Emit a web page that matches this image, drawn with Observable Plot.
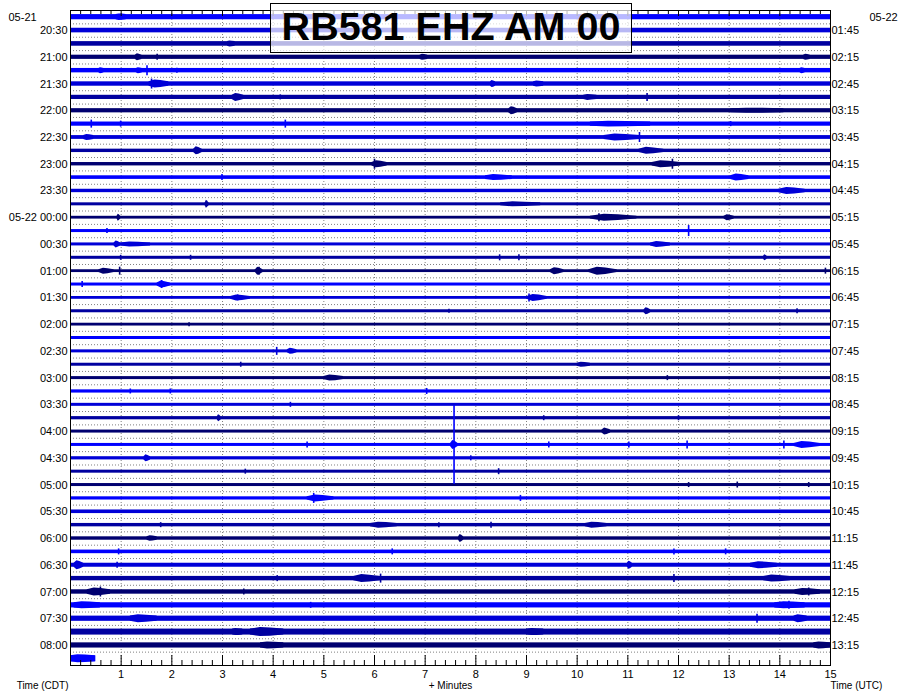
<!DOCTYPE html>
<html>
<head>
<meta charset="utf-8">
<script src="https://cdn.jsdelivr.net/npm/d3@7"></script>
<script src="https://cdn.jsdelivr.net/npm/@observablehq/plot@0.6"></script>
<style>
  body { margin: 0; background: #fff; font-family: "Liberation Sans", Arial, sans-serif; }
  #wrap { position: relative; width: 900px; height: 700px; }
  #title {
    position: absolute; left: 270px; top: 3px; width: 360px; height: 48px;
    border: 1px solid #000; background: rgba(255,255,255,0.72);
    font: bold 39.5px "Liberation Sans", Arial, sans-serif; color: #000;
    text-align: center; line-height: 44px; white-space: nowrap;
  }
</style>
</head>
<body>
<div id="wrap"><div id="title">RB581 EHZ AM 00</div></div>
<script>
// ---------- data ----------
const titleText = "RB581 EHZ AM 00";
const minuteTicks = [1,2,3,4,5,6,7,8,9,10,11,12,13,14,15];
const leftLabels = ["20:30","21:00","21:30","22:00","22:30","23:00","23:30","05-22 00:00",
  "00:30","01:00","01:30","02:00","02:30","03:00","03:30","04:00","04:30","05:00",
  "05:30","06:00","06:30","07:00","07:30","08:00"];
const rightLabels = ["01:45","02:15","02:45","03:15","03:45","04:15","04:45","05:15",
  "05:45","06:15","06:45","07:15","07:45","08:15","08:45","09:15","09:45","10:15",
  "10:45","11:15","11:45","12:15","12:45","13:15"];
const firstLeftDate = "05-21";
const firstRightDate = "05-22";
const rowColors = ["#0000ff", "#0000d8", "#0000a0", "#000070"];
const countsPerRow = 1336;      // trace gain: counts per row spacing
const lastRowMinutes = 0.5;     // last row only partly recorded
// background noise half-amplitude per row (counts), rows 0..48 (20:15 .. 08:15 CDT)
const baseAmp = [
  260,230,230,210,220,220,210,210,   // 0-7
  210,190,170,170,180,170,150,140,   // 8-15
  150,150,150,140,150,140,150,140,   // 16-23
  150,150,150,150,160,150,160,150,   // 24-31
  150,160,150,150,160,180,170,170,   // 32-39
  180,200,220,220,260,260,300,260,   // 40-47
  300                                // 48
];
// bursts: [row, fromMinute, toMinute, halfAmplitude counts]
const bursts = [
  [0,0.9,1.1,330],[2,3.1,3.25,300],
  [3,1.28,1.41,350],[3,6.9,7.05,300],[3,14.47,14.6,300],
  [4,0.56,0.66,300],[4,1.3,1.42,300],[4,14.4,14.5,300],
  [5,1.55,1.94,400],[5,8.29,8.39,350],[5,9.14,9.34,300],
  [6,3.19,3.42,400],[6,10.13,10.39,300],
  [7,8.65,8.82,400],[7,13.03,14.08,260],
  [8,10.26,11.45,280],
  [9,0.26,0.46,300],[9,10.53,11.25,350],
  [10,2.43,2.6,400],[10,11.22,11.71,350],
  [11,5.95,6.25,350],[11,11.48,12.04,350],
  [12,8.19,8.72,300],[12,13.03,13.39,350],
  [13,13.98,14.5,350],
  [14,2.66,2.73,400],[14,8.49,9.28,250],
  [15,0.92,0.99,350],[15,10.26,11.18,350],[15,12.9,13.1,300],
  [17,0.86,0.99,350],[17,0.99,1.58,250],[17,11.45,11.84,300],
  [18,13.68,13.75,300],
  [19,0.56,0.86,300],[19,3.65,3.8,400],[19,9.47,9.74,350],[19,10.23,10.79,400],
  [20,1.71,1.97,350],
  [21,3.16,3.55,300],[21,9.01,9.41,350],
  [22,11.32,11.45,350],
  [25,4.28,4.47,300],[26,10.0,10.26,250],[27,5.0,5.39,300],
  [30,2.9,2.97,350],[31,10.49,10.66,350],
  [32,7.5,7.65,450],[32,14.28,14.8,350],
  [33,1.45,1.58,350],[36,4.67,5.2,350],
  [38,5.92,6.45,300],[38,10.16,10.59,300],
  [39,1.51,1.71,280],[39,7.66,7.76,400],
  [41,0.07,0.26,450],[41,10.99,11.09,400],[41,13.42,13.95,350],
  [42,5.59,6.12,400],[42,13.68,14.21,350],
  [43,0.33,0.79,400],[43,14.3,14.8,350],
  [44,0.07,0.59,350],[44,13.9,14.5,350],
  [45,1.18,1.71,400],[45,14.28,14.54,400],
  [46,3.2,3.4,350],[46,3.55,4.21,450],[46,9.01,9.34,350],
  [47,3.75,4.21,350],[47,14.67,15,350],
  [48,0,0.49,400]
];
// spikes: [row, minute, halfAmplitude counts]
const spikes = [
  [3,1.71,300],[4,1.51,500],[4,2.1,250],[5,1.6,500],[6,11.38,400],[6,4.14,250],
  [8,0.41,400],[8,0.99,300],[8,4.24,400],[8,13.03,250],[9,11.23,500],
  [11,6.0,500],[11,11.88,500],[12,2.99,300],[15,10.43,400],[16,0.72,250],[16,12.2,550],
  [18,8.47,300],[18,8.85,300],[18,0.99,250],[18,2.37,250],
  [19,0.97,400],[19,3.72,400],[19,14.9,300],[20,0.23,300],[20,1.8,400],
  [21,3.3,300],[21,9.05,400],[22,7.47,200],[22,14.34,250],[23,2.34,200],
  [25,4.07,400],[26,3.36,250],[27,11.78,250],[28,1.18,250],[28,1.97,250],[28,7.03,300],
  [29,4.34,250],[30,9.34,250],[30,12.0,250],
  [32,7.57,3950],[32,9.44,300],[32,11.02,300],[32,12.17,400],[32,14.08,400],[32,4.67,300],
  [33,7.9,250],[34,3.45,250],[34,8.45,300],[35,12.2,250],[35,13.16,300],[35,14.57,250],
  [36,4.8,500],[36,8.88,300],[38,1.78,250],[38,7.27,250],[38,8.3,300],
  [40,0.95,300],[40,6.35,300],[40,11.91,300],[40,12.93,300],[41,0.92,300],
  [42,4.08,300],[42,6.12,450],[42,11.91,400],[43,0.59,500],[43,3.42,300],[43,14.57,400],
  [44,4.74,300],[44,14.18,400],[45,13.55,450]
];

// ---------- derived ----------
const nRows = baseAmp.length;
const rows = d3.range(nRows);
const rowColor = r => rowColors[r % 4];
const off = c => c / countsPerRow;
const minorTicks = d3.range(1, 75).filter(i => i % 5 !== 0).map(i => i / 5);
const labelRows = d3.range(leftLabels.length).map(k => 2 * k + 1);
// spindle-shaped envelope for each burst: base -> peak (early) -> base
const burstPts = bursts.flatMap(([r, a, b, amp], j) => {
  const base = baseAmp[r];
  return [
    {j, r, x: a, h: base},
    {j, r, x: a + (b - a) * 0.3, h: amp},
    {j, r, x: a + (b - a) * 0.6, h: (amp + base) / 2 + (amp - base) * 0.2},
    {j, r, x: b, h: base}
  ];
});

const chart = Plot.plot({
  width: 900,
  height: 700,
  marginLeft: 70,
  marginRight: 70,
  marginTop: 10,
  marginBottom: 35,
  x: {domain: [0, 15], label: null},
  y: {domain: [-0.5, nRows - 0.5], reverse: true, axis: null, label: null},
  color: {type: "identity"},
  style: {fontFamily: "'Liberation Sans', Arial, sans-serif", fontSize: "11px", color: "#000", background: "#fff"},
  marks: [
    Plot.gridX(minuteTicks.slice(0, -1), {stroke: "#808080", strokeOpacity: 1, strokeDasharray: "1,2"}),
    Plot.ruleY(rows.slice(0, -1), {y: r => r + 0.5, stroke: "#808080", strokeDasharray: "1,2"}),
    // continuous background noise band per row
    Plot.rect(rows, {
      x1: () => 0,
      x2: r => (r === nRows - 1 ? lastRowMinutes : 15),
      y1: r => r - off(baseAmp[r]),
      y2: r => r + off(baseAmp[r]),
      fill: rowColor
    }),
    // bursts (wave packets)
    Plot.areaY(burstPts, {
      x: "x", y1: d => d.r - off(d.h), y2: d => d.r + off(d.h), z: "j",
      fill: d => rowColor(d.r)
    }),
    // spikes
    Plot.ruleX(spikes, {
      x: d => d[1],
      y1: d => d[0] - off(d[2]), y2: d => d[0] + off(d[2]),
      stroke: d => rowColor(d[0]), strokeWidth: 1.6
    }),
    Plot.frame({stroke: "#000"}),
    // inward ticks
    Plot.tickX(minorTicks, {x: d => d, insetTop: 650, stroke: "#000"}),
    Plot.tickX(minuteTicks, {x: d => d, insetTop: 645, stroke: "#000"}),
    Plot.tickX(minorTicks, {x: d => d, insetBottom: 651, stroke: "#000"}),
    Plot.tickX(minuteTicks, {x: d => d, insetBottom: 649, stroke: "#000"}),
    Plot.axisX(minuteTicks, {tickSize: 0, tickPadding: 5, fontSize: 11, tickFormat: d => String(d), label: null}),
    // row time labels
    Plot.text(labelRows, {y: r => r, text: (r, i) => leftLabels[i], frameAnchor: "left", textAnchor: "end", dx: -3}),
    Plot.text(labelRows, {y: r => r, text: (r, i) => rightLabels[i], frameAnchor: "right", textAnchor: "start", dx: 1}),
    Plot.text([firstLeftDate], {y: () => 0, text: d => d, frameAnchor: "left", textAnchor: "start", dx: -62}),
    Plot.text([firstRightDate], {y: () => 0, text: d => d, frameAnchor: "right", textAnchor: "start", dx: 39}),
    // bottom captions
    Plot.text(["Time (CDT)"], {text: d => d, frameAnchor: "bottom-left", textAnchor: "end", dx: -2, dy: 23, fontSize: 10}),
    Plot.text(["+ Minutes"], {text: d => d, frameAnchor: "bottom", dy: 23, fontSize: 10}),
    Plot.text(["Time (UTC)"], {text: d => d, frameAnchor: "bottom-right", textAnchor: "start", dx: 0, dy: 23, fontSize: 10})
  ]
});
const wrap = document.getElementById("wrap");
wrap.insertBefore(chart, wrap.firstChild);
chart.style.position = "absolute";
chart.style.left = "0";
chart.style.top = "0";
document.getElementById("title").textContent = titleText;
</script>
</body>
</html>
